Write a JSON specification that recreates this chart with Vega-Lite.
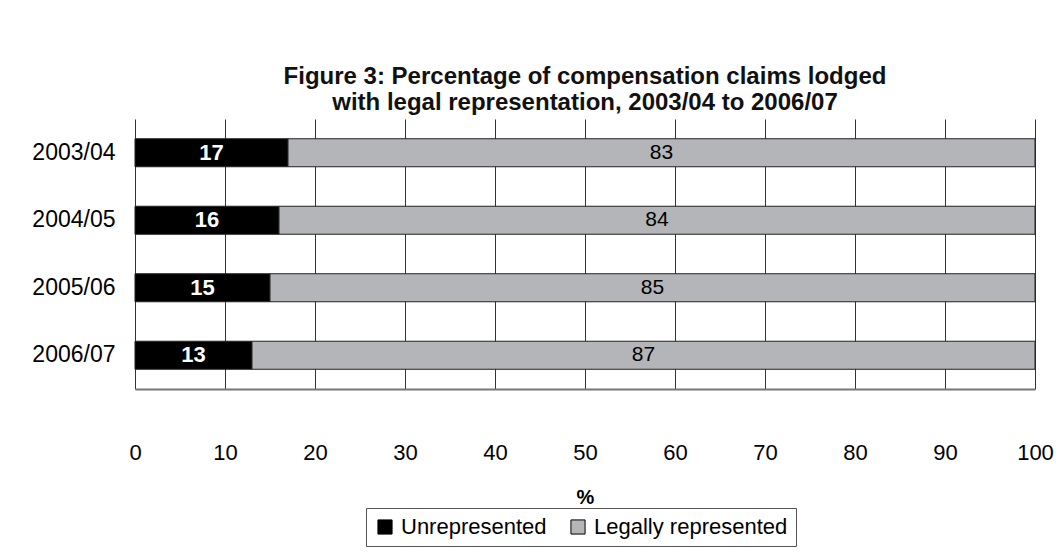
{
  "$schema": "https://vega.github.io/schema/vega-lite/v6.json",
  "autosize": "none",
  "width": 900,
  "height": 270,
  "padding": {"left": 135, "top": 119, "right": 28, "bottom": 166},
  "background": "white",
  "title": {
    "text": ["Figure 3: Percentage of compensation claims lodged", "with legal representation, 2003/04 to 2006/07"],
    "anchor": "middle",
    "font": "Liberation Sans",
    "fontSize": 24,
    "fontWeight": "bold",
    "lineHeight": 26,
    "offset": 4,
    "color": "#111"
  },
  "data": {
    "values": [
      {"year": "2003/04", "group": "Unrepresented", "ord": 1, "value": 17},
      {"year": "2003/04", "group": "Legally represented", "ord": 2, "value": 83},
      {"year": "2004/05", "group": "Unrepresented", "ord": 1, "value": 16},
      {"year": "2004/05", "group": "Legally represented", "ord": 2, "value": 84},
      {"year": "2005/06", "group": "Unrepresented", "ord": 1, "value": 15},
      {"year": "2005/06", "group": "Legally represented", "ord": 2, "value": 85},
      {"year": "2006/07", "group": "Unrepresented", "ord": 1, "value": 13},
      {"year": "2006/07", "group": "Legally represented", "ord": 2, "value": 87}
    ]
  },
  "transform": [
    {"stack": "value", "groupby": ["year"], "sort": [{"field": "ord", "order": "ascending"}], "as": ["v0", "v1"]},
    {"calculate": "(datum.v0 + datum.v1) / 2", "as": "mid"}
  ],
  "encoding": {
    "y": {
      "field": "year",
      "type": "nominal",
      "sort": ["2003/04", "2004/05", "2005/06", "2006/07"],
      "scale": {"paddingInner": 0.585, "paddingOuter": 0.2925},
      "axis": {
        "title": null,
        "domain": false,
        "ticks": false,
        "tickSize": 0,
        "labelPadding": 20,
        "labelFont": "Liberation Sans",
        "labelFontSize": 23,
        "labelColor": "#000"
      }
    }
  },
  "layer": [
    {
      "mark": {"type": "bar", "stroke": "#222", "strokeWidth": 1},
      "encoding": {
        "x": {
          "field": "v0",
          "type": "quantitative",
          "scale": {"domain": [0, 100], "nice": false},
          "axis": {
            "title": "%",
            "titleFont": "Liberation Sans",
            "titleFontSize": 20,
            "titleFontWeight": "bold",
            "titleColor": "#000",
            "titlePadding": 24,
            "values": [0, 10, 20, 30, 40, 50, 60, 70, 80, 90, 100],
            "grid": true,
            "gridColor": "#333",
            "gridWidth": 1,
            "gridOpacity": 1,
            "ticks": false,
            "tickSize": 0,
            "domain": true,
            "domainColor": "#777",
            "domainWidth": 2,
            "labelPadding": 53,
            "labelFont": "Liberation Sans",
            "labelFontSize": 22,
            "labelColor": "#000",
            "labelFlush": false
          }
        },
        "x2": {"field": "v1"},
        "color": {
          "field": "group",
          "type": "nominal",
          "scale": {"domain": ["Unrepresented", "Legally represented"], "range": ["#000000", "#b3b5b8"]},
          "legend": {
            "title": null,
            "orient": "none",
            "legendX": 231,
            "legendY": 389,
            "direction": "horizontal",
            "symbolType": "square",
            "symbolSize": 200,
            "symbolStrokeColor": "#000",
            "symbolStrokeWidth": 1,
            "labelFont": "Liberation Sans",
            "labelFontSize": 22,
            "labelColor": "#000",
            "labelLimit": 400,
            "labelOffset": 5,
            "columnPadding": 20,
            "padding": 8,
            "strokeColor": "#555",
            "fillColor": "white"
          }
        }
      }
    },
    {
      "transform": [{"filter": "datum.ord === 1"}],
      "mark": {"type": "text", "font": "Liberation Sans", "fontSize": 22, "fontWeight": "bold", "baseline": "middle", "align": "center", "color": "white"},
      "encoding": {
        "x": {"field": "mid", "type": "quantitative"},
        "text": {"field": "value", "type": "quantitative"}
      }
    },
    {
      "transform": [{"filter": "datum.ord === 2"}],
      "mark": {"type": "text", "font": "Liberation Sans", "fontSize": 21, "baseline": "middle", "align": "center", "color": "black"},
      "encoding": {
        "x": {"field": "mid", "type": "quantitative"},
        "text": {"field": "value", "type": "quantitative"}
      }
    }
  ],
  "config": {"view": {"stroke": null}}
}
